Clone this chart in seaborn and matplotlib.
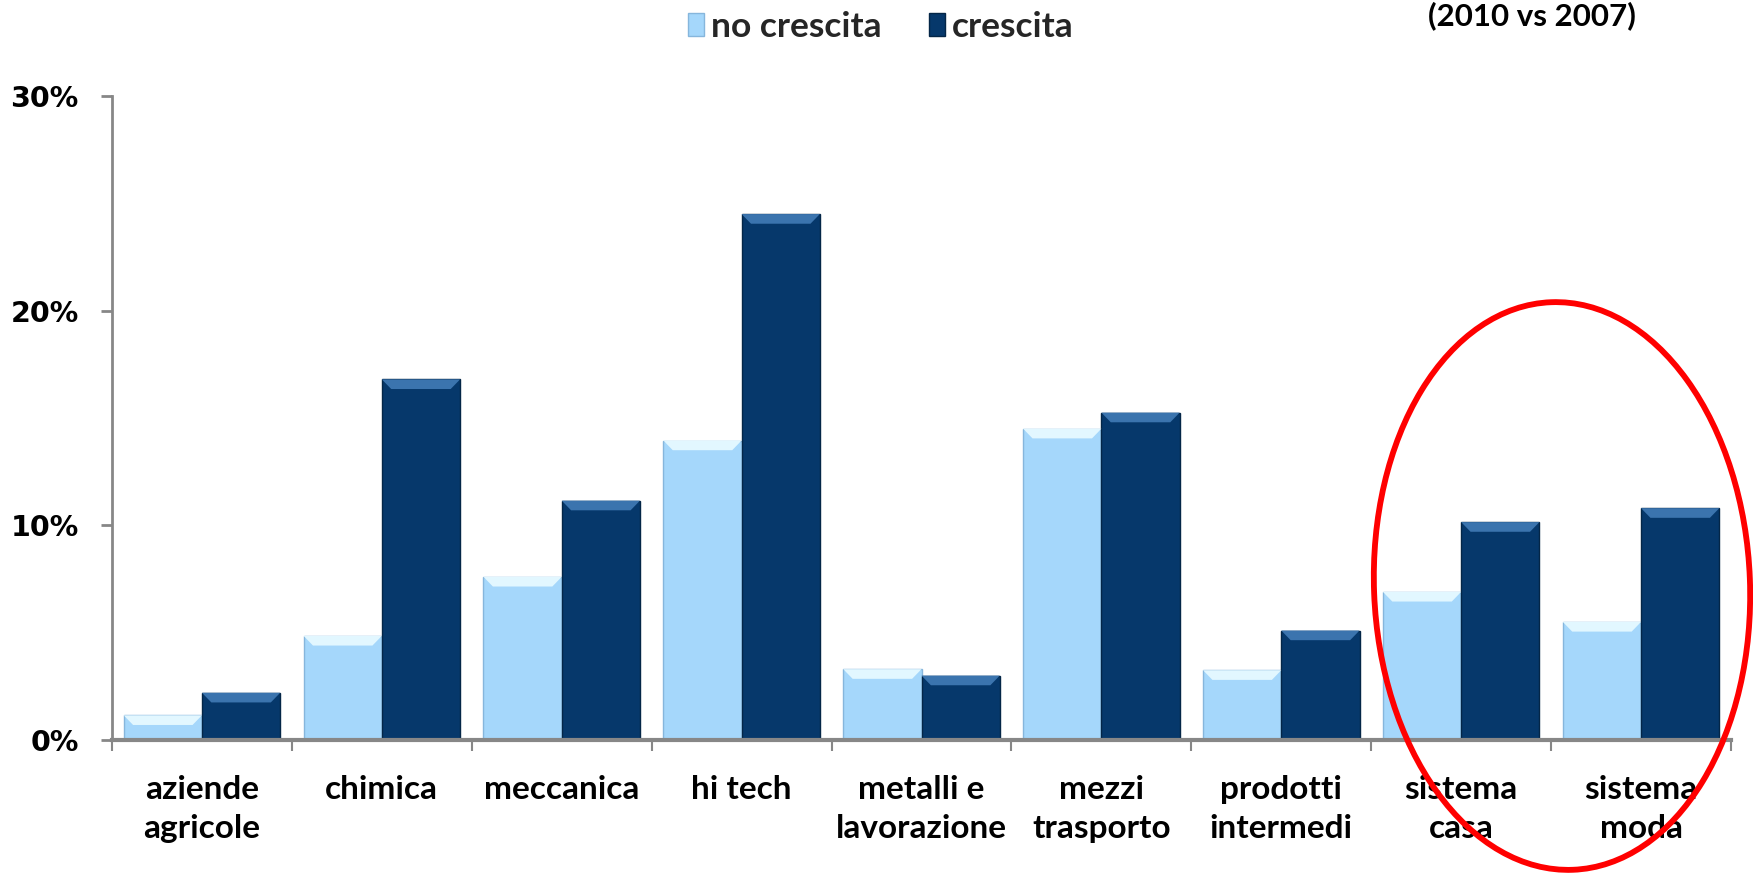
import matplotlib
matplotlib.use("Agg")
import matplotlib.pyplot as plt
import seaborn as sns
import pandas as pd
from matplotlib.patches import Patch, Polygon, Ellipse

categorie = ["aziende\nagricole", "chimica", "meccanica", "hi tech", "metalli e\nlavorazione",
             "mezzi\ntrasporto", "prodotti\nintermedi", "sistema\ncasa", "sistema\nmoda"]
no_crescita = [1.15, 4.85, 7.6, 13.95, 3.3, 14.5, 3.25, 6.9, 5.5]
crescita = [2.2, 16.8, 11.15, 24.5, 3.0, 15.25, 5.1, 10.15, 10.8]
serie = ["no crescita", "crescita"]
y_ticks = [0, 10, 20, 30]
sottotitolo = "(2010 vs 2007)"

light = "#A5D7FB"
dark = "#06386B"
light_hi = "#E2F7FF"
dark_hi = "#3B74AE"

df = pd.DataFrame({
    "settore": categorie * 2,
    "valore": no_crescita + crescita,
    "serie": [serie[0]] * len(categorie) + [serie[1]] * len(categorie),
})

sns.set_theme(style="white")
plt.rcParams["font.family"] = ["Lato", "DejaVu Sans"]

fig = plt.figure(figsize=(17.53, 8.74), dpi=100)
ax = fig.add_axes([112 / 1753, 1 - 740 / 874, (1731 - 112) / 1753, (740 - 96) / 874])

sns.barplot(data=df, x="settore", y="valore", hue="serie", palette=[light, dark],
            width=0.87, gap=0, ax=ax, legend=False, saturation=1, errorbar=None)

# bevel highlight on top of each bar, derived from the drawn patches
bars = [p for p in ax.patches]
for p in bars:
    fc = p.get_facecolor()
    is_light = fc[0] > 0.5
    p.set_edgecolor("#86B6DC" if is_light else "#042647")
    p.set_linewidth(1.0)
    x0, y0 = p.get_x(), p.get_y()
    w, h = p.get_width(), p.get_height()
    top = y0 + h
    bh = min(0.45, h * 0.5)
    dx = w * 0.12
    poly = Polygon([(x0, top), (x0 + w, top), (x0 + w - dx, top - bh), (x0 + dx, top - bh)],
                   closed=True, facecolor=light_hi if is_light else dark_hi,
                   edgecolor="none", zorder=p.get_zorder() + 0.1)
    ax.add_patch(poly)

ax.set_ylim(0, 30)
ax.set_xlim(-0.5, len(categorie) - 0.5)
ax.set_yticks(y_ticks)
ax.set_yticklabels([f"{t}%" for t in y_ticks], fontsize=20.5, fontweight="bold",
                   family=["DejaVu Sans"])
ax.set_xlabel("")
ax.set_ylabel("")
ax.set_xticks(range(len(categorie)))
ax.set_xticklabels(categorie, fontsize=24, fontweight="bold", linespacing=1.42)
ax.set_xticks([i - 0.5 for i in range(len(categorie) + 1)], minor=True)

for s in ["top", "right"]:
    ax.spines[s].set_visible(False)
for s in ["left", "bottom"]:
    ax.spines[s].set_color("#878787")
ax.spines["left"].set_linewidth(2.0)
ax.spines["bottom"].set_linewidth(3.0)

ax.tick_params(axis="y", which="major", direction="out", length=8, width=2.0,
               color="#878787", pad=16, left=True, labelcolor="black")
ax.tick_params(axis="x", which="major", length=0, pad=25, labelcolor="black")
ax.tick_params(axis="x", which="minor", direction="out", length=8, width=1.5,
               color="#878787", bottom=True)
ax.grid(False)

handles = [Patch(facecolor=light, edgecolor="#86B6DC", label=serie[0]),
           Patch(facecolor=dark, edgecolor="#042647", label=serie[1])]
fig.legend(handles=handles, loc="center", bbox_to_anchor=(881 / 1753, 1 - 27 / 874),
           ncol=2, frameon=False, prop={"family": ["Lato"], "weight": "bold", "size": 25.5},
           handlelength=0.45, handleheight=0.6, handletextpad=0.2, columnspacing=1.35)

fig.text(1532 / 1753, 1 - 16 / 874, sottotitolo, ha="center", va="center",
         fontsize=22.5, fontweight="bold", color="black")

ell = Ellipse((15.62, (874 - 586) / 100), 3.76, 5.68, angle=2.2, fill=False,
              edgecolor="#FF0000", linewidth=4.2, transform=fig.dpi_scale_trans,
              clip_on=False, zorder=10)
fig.add_artist(ell)

fig.savefig("out.png", dpi=100)
